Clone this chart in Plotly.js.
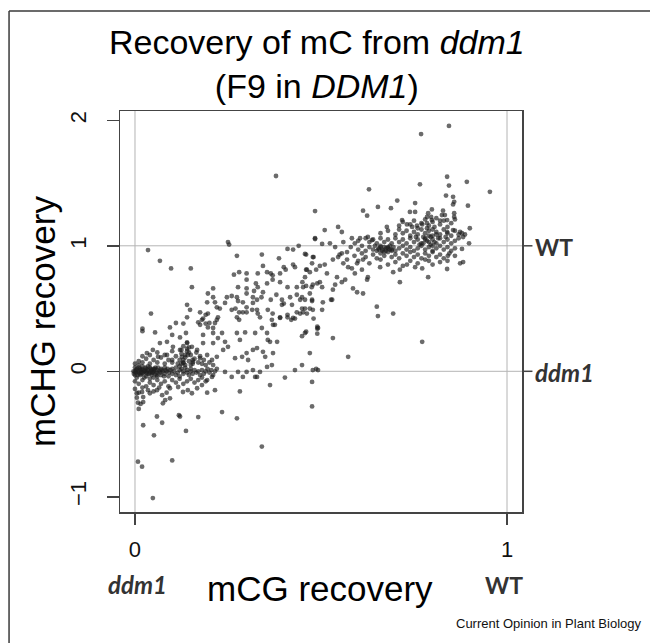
<!DOCTYPE html>
<html>
<head>
<meta charset="utf-8">
<script src="https://cdn.plot.ly/plotly-3.0.1.min.js"></script>
<style>html,body{margin:0;padding:0;background:#fff;}#chart{width:650px;height:643px;}</style>
</head>
<body>
<div id="chart"></div>
<script>
// ---- Data ----
// near-zero cluster (ddm1-like loci)
const lowX = [0.00,0.005,0.01,0.01,0.015,0.02,0.02,0.025,0.03,0.03,0.035,0.04,0.04,0.045,0.05,0.05,0.055,0.06,0.06,0.065,
0.00,0.005,0.01,0.015,0.02,0.025,0.03,0.035,0.04,0.045,0.05,0.055,0.06,0.07,0.07,0.075,0.08,0.08,0.085,0.09,
0.00,0.002,0.008,0.012,0.018,0.022,0.028,0.032,0.038,0.042,0.048,0.052,0.058,0.062,0.068,0.072,0.078,0.082,0.088,0.092,
0.095,0.10,0.10,0.105,0.11,0.11,0.115,0.12,0.12,0.125,0.13,0.13,0.135,0.14,0.14,0.145,0.15,0.15,0.155,0.16,
0.165,0.17,0.175,0.18,0.185,0.19,0.195,0.20,0.205,0.21,0.215,0.22,
0.00,0.01,0.02,0.03,0.04,0.05,0.06,0.07,0.08,0.09,0.10,0.11,0.12,0.13,0.14,0.15,0.16,0.17,0.18,0.19,0.00,0.01,0.02,0.035,0.05,0.065,0.085,
0.00,0.01,0.02,0.03,0.04,0.05,0.06,0.07,0.08,0.09,0.10,0.11,0.115,0.12,0.125,0.13,0.135,0.14,0.145,0.15,0.155,0.16,0.165,0.17,0.175,0.18,0.185,0.19,0.20,0.21,0.13,0.14,0.125,0.145,0.135,0.02,0.04,0.06,0.08,0.10,
0.12,0.125,0.13,0.135,0.14,0.145,0.15,0.155,
0.005,0.015,0.01,-0.004,-0.003,0.003,0.007,0.013,0.017,0.027,0.033,0.043,0.047,0.053,
0.242,0.26,0.277,0.29,0.323];
const lowY = [0.00,0.02,-0.01,0.03,-0.03,0.01,-0.02,0.00,0.02,-0.04,0.01,-0.01,0.03,-0.03,0.00,0.02,-0.02,0.01,-0.04,0.00,
-0.03,-0.05,0.05,0.01,0.04,-0.05,-0.01,0.04,-0.06,0.01,-0.05,0.03,-0.01,0.02,-0.03,0.00,-0.02,0.03,0.00,-0.04,
0.03,-0.01,0.00,-0.02,0.02,-0.01,0.03,0.00,-0.02,0.02,-0.01,0.01,-0.03,0.03,-0.01,0.01,-0.04,0.01,0.02,-0.01,
0.01,-0.02,0.02,0.00,-0.03,0.03,-0.01,0.01,-0.04,0.02,-0.02,0.00,0.03,-0.01,0.01,-0.03,0.00,0.02,-0.02,0.01,
-0.01,0.00,-0.03,0.01,-0.02,0.00,0.02,-0.01,0.01,-0.03,0.00,0.02,
-0.08,-0.10,-0.07,-0.12,-0.09,-0.11,-0.07,-0.10,-0.08,-0.12,-0.07,-0.09,-0.06,-0.10,-0.08,-0.06,-0.09,-0.07,-0.05,-0.08,-0.14,-0.17,-0.13,-0.15,-0.16,-0.13,-0.17,
0.06,0.08,0.07,0.10,0.06,0.09,0.07,0.11,0.06,0.09,0.07,0.12,0.06,0.09,0.14,0.07,0.11,0.18,0.08,0.13,0.06,0.10,0.15,0.07,0.12,0.06,0.09,0.05,0.07,0.05,0.20,0.23,0.17,0.15,0.05,0.12,0.13,0.15,0.13,0.16,
0.04,0.06,0.09,0.13,0.16,0.19,0.05,0.09,
-0.21,-0.26,-0.30,0.00,-0.02,0.01,-0.03,0.02,-0.01,0.01,-0.02,0.00,-0.01,0.02,
-0.005,-0.045,-0.005,-0.045,-0.045];

// rising band between the two states
const midX = [0.379,0.484,0.484,0.25,0.253,0.035,0.067,0.097,0.15,0.153,0.043,0.274,0.341,0.41,0.425,0.44,0.387,0.46,0.48,0.344,
0.40,0.405,0.425,0.43,0.46,0.47,0.266,0.28,0.30,0.33,0.355,0.365,0.37,0.39,0.30,0.325,0.355,0.37,0.39,0.41,
0.435,0.45,0.46,0.475,0.49,0.277,0.30,0.32,0.33,0.344,0.21,0.196,0.21,0.247,0.26,0.274,0.277,0.29,0.30,0.317,
0.328,0.34,0.365,0.38,0.395,0.40,0.417,0.435,0.444,0.457,0.476,0.215,0.22,0.14,0.148,0.175,0.19,0.196,0.27,0.28,
0.274,0.28,0.30,0.315,0.33,0.336,0.357,0.37,0.39,0.41,0.42,0.43,0.444,0.457,0.48,0.094,0.11,0.13,0.17,0.18,
0.19,0.20,0.22,0.21,0.368,0.376,0.02,
0.02,0.054,0.14,0.10,0.121,0.137,0.183,0.175,0.196,0.215,0.223,0.21,0.183,0.067,0.086,0.102,0.121,0.14,0.153,0.167,
0.183,0.032,0.048,0.062,0.086,0.10,0.126,0.142,0.13,0.156,0.175,0.194,0.207,0.22,0.21,0.223,0.234,0.242,0.25,0.237,
0.194,0.228,0.242,0.26,0.29,0.30,0.317,0.328,0.274,0.282,0.296,0.323,0.341,0.355,0.363,0.371,0.39,0.41,0.425,0.435,
0.449,0.462,0.478,0.492,0.457,0.395,0.422,0.357,0.269,0.288,0.30,0.304,0.317,0.328,0.344,0.35,0.371,0.382,0.355,0.368,
0.47,0.449,0.43,0.403,0.363,0.328,0.30,0.336,0.476,0.478,0.492,0.317,0.234,0.274,0.17,0.137,0.118,0.121,0.059,0.073,
0.022,0.051,0.341,0.476,0.10,0.008,0.019,0.048,0.282,0.215,0.194,0.005,0.019,0.022,0.008,0.022,0.04,0.059,0.073,0.081,
0.094,0.116,0.129,0.142,0.153,0.167,0.18,0.194,0.207,0.094,0.075,0.772,0.573,0.532,0.49,0.49,0.49,0.487,0.46,0.449,0.527,
0.457,0.478,0.476,0.497,0.51,0.487,0.516,0.462,0.457,0.532,0.546,0.556,0.56,0.57,0.573,0.583,0.597,0.591,0.61,0.613,
0.543,0.556,0.565,0.538,0.532,0.497,0.503,0.478,0.47,0.452,0.449,0.586,0.597,0.613,0.624,0.626,0.659,0.694,0.712,0.731,
0.753,0.772,0.79,0.476,0.505,0.53,0.503,0.47,0.452,0.65,0.653,0.694,0.788,0.712,0.839,0.874,0.882,0.841,0.879];
const midY = [1.556,1.277,1.054,1.03,1.01,0.966,0.88,0.82,0.82,0.67,0.46,0.92,0.93,0.975,0.97,1.00,0.90,0.93,0.91,0.84,
0.83,0.81,0.85,0.83,0.81,0.79,0.77,0.79,0.78,0.78,0.79,0.78,0.765,0.78,0.73,0.70,0.70,0.73,0.71,0.67,
0.67,0.71,0.68,0.67,0.70,0.67,0.66,0.64,0.67,0.63,0.66,0.62,0.59,0.59,0.60,0.59,0.56,0.55,0.62,0.59,
0.57,0.59,0.57,0.61,0.57,0.54,0.59,0.61,0.57,0.57,0.56,0.55,0.51,0.53,0.49,0.47,0.45,0.46,0.50,0.47,
0.43,0.41,0.47,0.49,0.46,0.43,0.49,0.46,0.43,0.43,0.41,0.42,0.46,0.50,0.42,0.35,0.385,0.38,0.39,0.41,
0.38,0.385,0.41,0.345,0.41,0.37,0.34,
0.32,0.31,0.43,0.29,0.27,0.305,0.42,0.37,0.35,0.385,0.43,0.305,0.29,0.225,0.235,0.195,0.17,0.225,0.195,0.17,
0.225,0.145,0.17,0.115,0.13,0.09,0.115,0.13,0.065,0.075,0.105,0.13,0.09,0.115,0.225,0.265,0.305,0.235,0.195,0.17,
0.55,0.50,0.545,0.49,0.47,0.51,0.545,0.49,0.305,0.25,0.31,0.305,0.345,0.305,0.235,0.37,0.425,0.45,0.425,0.47,
0.50,0.46,0.49,0.345,0.305,0.53,0.53,0.25,0.105,0.115,0.145,0.09,0.17,0.185,0.155,0.115,0.145,0.235,0.035,0.05,
0.145,0.05,0.01,-0.05,-0.11,-0.045,-0.005,-0.005,-0.085,0.01,0.01,0.01,-0.325,-0.375,-0.365,-0.475,-0.35,-0.36,-0.36,-0.41,
-0.43,-0.51,-0.60,-0.28,-0.71,-0.72,-0.76,-1.01,-0.16,-0.15,-0.17,-0.175,-0.165,-0.205,-0.25,-0.245,-0.175,-0.15,-0.19,-0.23,
-0.135,-0.125,-0.165,-0.15,-0.175,-0.135,-0.11,-0.07,-0.045,-0.215,-0.255,0.235,0.115,0.265,0.355,0.34,0.30,0.02,0.315,0.28,0.57,
0.935,0.91,0.86,0.84,0.85,0.81,0.78,0.81,0.75,0.89,0.91,0.94,0.86,0.89,0.83,0.82,0.86,0.78,0.81,0.89,
0.75,0.71,0.73,0.69,0.65,0.71,0.67,0.69,0.62,0.67,0.59,0.66,0.63,0.62,0.73,0.75,0.83,0.79,0.81,0.85,
0.83,0.82,0.88,0.57,0.55,0.57,0.49,0.50,0.47,0.515,0.44,0.46,0.75,0.71,0.815,0.86,0.87,0.92,0.975];

// upper cluster near WT level
const highX = [0.844,0.769,0.954,0.839,0.844,0.892,0.766,0.629,0.705,0.753,0.836,0.855,0.858,0.855,0.895,0.613,0.624,0.653,0.688,0.739,
0.753,0.798,0.788,0.785,0.796,0.828,0.825,0.833,0.839,0.858,0.858,0.546,0.556,0.51,0.677,0.718,0.71,0.731,0.745,0.758,
0.772,0.785,0.798,0.82,0.484,0.503,0.524,0.538,0.56,0.583,0.591,0.605,0.626,0.637,0.839,0.855,0.874,0.882,0.879,0.90,0.898,0.887,
0.72,0.74,0.75,0.77,0.78,0.79,0.80,0.81,0.82,0.83,0.84,0.85,0.76,0.80,0.86,
0.66,0.68,0.70,0.71,0.72,0.73,0.74,0.75,0.76,0.77,0.78,0.79,0.80,0.81,0.82,0.83,0.84,0.85,0.86,0.87,0.785,0.805,0.775,0.815,0.835,
0.60,0.62,0.63,0.64,0.65,0.66,0.67,0.68,0.69,0.70,0.71,0.72,0.73,0.74,0.75,0.76,0.77,0.78,0.79,0.80,0.81,0.82,0.83,0.84,0.85,0.86,0.87,0.755,0.795,0.765,
0.58,0.60,0.61,0.62,0.63,0.64,0.645,0.65,0.655,0.66,0.665,0.67,0.675,0.68,0.685,0.69,0.695,0.70,0.71,0.72,0.73,0.74,0.75,0.76,0.77,0.78,0.79,0.80,0.81,0.82,0.83,0.84,0.85,0.86,
0.55,0.57,0.59,0.61,0.62,0.64,0.65,0.66,0.67,0.68,0.69,0.70,0.71,0.72,0.73,0.74,0.75,0.76,0.77,0.78,0.79,0.80,0.81,0.82,0.83,0.845,0.86,
0.60,0.63,0.66,0.68,0.70,0.72,0.74,0.76,0.78,0.80,0.82,0.84,
0.655,0.665,0.675,0.685,0.67,0.68,0.66,0.69,0.775,0.785,0.795,0.805,0.79,0.80,0.78,0.81];
const highY = [1.955,1.89,1.43,1.55,1.48,1.51,1.49,1.45,1.36,1.34,1.40,1.39,1.35,1.33,1.32,1.28,1.24,1.31,1.30,1.27,
1.27,1.29,1.26,1.23,1.23,1.28,1.245,1.245,1.205,1.26,1.23,1.15,1.11,1.125,1.15,1.205,1.16,1.17,1.15,1.16,
1.17,1.18,1.205,1.20,1.06,1.015,1.02,0.99,1.03,1.06,1.02,1.06,1.07,1.045,1.11,1.125,1.11,1.07,1.10,1.14,1.02,1.09,
1.19,1.17,1.20,1.18,1.21,1.16,1.19,1.22,1.17,1.20,1.15,1.18,1.14,1.13,1.21,
1.10,1.12,1.09,1.13,1.10,1.12,1.08,1.11,1.09,1.13,1.10,1.12,1.08,1.11,1.09,1.13,1.10,1.08,1.12,1.09,1.14,1.15,1.07,1.06,1.07,
1.04,1.06,1.03,1.05,1.02,1.06,1.03,1.05,1.02,1.06,1.03,1.05,1.02,1.06,1.03,1.05,1.02,1.06,1.03,1.05,1.02,1.06,1.03,1.05,1.02,1.04,1.06,1.07,1.07,1.01,
0.99,0.97,1.00,0.96,0.99,0.97,1.00,0.96,0.98,1.00,0.97,0.99,0.96,0.98,1.00,0.97,0.99,0.96,0.98,1.00,0.97,0.99,0.96,0.98,1.00,0.97,0.99,0.96,0.98,1.00,0.97,0.99,0.96,0.98,
0.93,0.95,0.92,0.94,0.91,0.93,0.90,0.94,0.92,0.95,0.91,0.93,0.90,0.94,0.92,0.95,0.91,0.93,0.90,0.94,0.92,0.95,0.91,0.93,0.90,0.94,0.92,
0.88,0.86,0.89,0.85,0.87,0.84,0.88,0.86,0.89,0.85,0.87,0.88,
0.97,0.96,0.98,0.97,0.95,0.99,0.99,0.96,1.02,1.04,1.01,1.03,1.08,1.00,1.05,1.09];

const xTickVals = [0, 1];
const xTickText = ['0', '1'];
const yTickVals = [-1, 0, 1, 2];
const yTickText = ['\u22121', '0', '1', '2'];
const stateVals = [0, 1];
const stateText = ['<b><i>ddm1</i></b>', '<b>WT</b>'];

const allX = lowX.concat(midX, highX);
const allY = lowY.concat(midY, highY);

const SANS = 'Liberation Sans, Arial, Helvetica, sans-serif';
const BOLD = 'Lato, Open Sans, sans-serif';

const traces = [{
  type: 'scatter', mode: 'markers', x: allX, y: allY,
  marker: {size: 4.8, color: 'rgba(30,30,30,0.66)', line: {width: 0}},
  hoverinfo: 'skip', showlegend: false, cliponaxis: true
}];

const refLine = {color: '#b4b4b4', width: 1};
const frame = {color: '#3a3a3a', width: 1.5};
const tickLine = {color: '#444', width: 1.5};

const shapes = [
  {type: 'line', xref: 'x', yref: 'paper', x0: 0, x1: 0, y0: 0, y1: 1, line: refLine, layer: 'below'},
  {type: 'line', xref: 'x', yref: 'paper', x0: 1, x1: 1, y0: 0, y1: 1, line: refLine, layer: 'below'},
  {type: 'line', xref: 'paper', yref: 'y', x0: 0, x1: 1, y0: 0, y1: 0, line: refLine, layer: 'below'},
  {type: 'line', xref: 'paper', yref: 'y', x0: 0, x1: 1, y0: 1, y1: 1, line: refLine, layer: 'below'},
  {type: 'line', xref: 'paper', yref: 'paper', x0: -0.276, x1: -0.276, y0: -0.36, y1: 1.2494, line: frame},
  {type: 'line', xref: 'paper', yref: 'paper', x0: -0.276, x1: 1.36, y0: 1.2494, y1: 1.2494, line: frame}
];
const annotations = [
  {xref: 'paper', yref: 'paper', x: 0.491, y: 1.118, xanchor: 'center', yanchor: 'middle',
   text: 'Recovery of mC from <i>ddm1</i><br>(F9 in <i>DDM1</i>)', showarrow: false,
   font: {family: SANS, size: 34, color: '#000'}},
  {xref: 'paper', yref: 'paper', x: 0.498, y: -0.19, xanchor: 'center', yanchor: 'middle',
   text: 'mCG recovery', showarrow: false, font: {family: SANS, size: 35, color: '#000'}},
  {xref: 'paper', yref: 'paper', x: -0.1915, y: 0.474, xanchor: 'center', yanchor: 'middle', textangle: -90,
   text: 'mCHG recovery', showarrow: false, font: {family: SANS, size: 35, color: '#000'}},
  {xref: 'x', yref: 'paper', x: 0, y: -0.182, xanchor: 'center', yanchor: 'middle', xshift: 3,
   text: stateText[0], showarrow: false, font: {family: BOLD, size: 24, color: '#333'}},
  {xref: 'x', yref: 'paper', x: 1, y: -0.182, xanchor: 'center', yanchor: 'middle', xshift: -3,
   text: stateText[1], showarrow: false, font: {family: BOLD, size: 23, color: '#333'}},
  {xref: 'paper', yref: 'paper', x: 1.3, y: -0.278, xanchor: 'right', yanchor: 'middle',
   text: 'Current Opinion in Plant Biology', showarrow: false, font: {family: SANS, size: 13, color: '#111'}}
];
// right-hand state axis: ticks + labels at the ddm1 (0) and WT (1) levels
stateVals.forEach((v, i) => {
  shapes.push({type: 'line', xref: 'paper', yref: 'y', x0: 1, x1: 1.026, y0: v, y1: v, line: tickLine});
  annotations.push({xref: 'paper', yref: 'y', x: 1.027, y: v, xanchor: 'left', yanchor: 'middle', yshift: -1,
    text: stateText[i], showarrow: false, font: {family: BOLD, size: i === 0 ? 24 : 23, color: '#333'}});
});

const layout = {
  width: 650, height: 643,
  margin: {l: 120, r: 128, t: 111, b: 131, pad: 0},
  paper_bgcolor: '#fff', plot_bgcolor: '#fff',
  showlegend: false,
  xaxis: {
    range: [-0.0403, 1.0403], tickvals: xTickVals, ticktext: xTickText,
    ticks: 'outside', ticklen: 11, tickwidth: 1.5, tickcolor: '#444',
    showline: true, mirror: true, linecolor: '#444', linewidth: 1.5,
    showgrid: false, zeroline: false, ticklabelstandoff: 6,
    tickfont: {family: SANS, size: 22, color: '#111'}
  },
  yaxis: {
    range: [-1.121, 2.074], tickvals: yTickVals, ticktext: yTickText, tickangle: -90,
    ticks: 'outside', ticklen: 12, tickwidth: 1.5, tickcolor: '#444',
    showline: true, mirror: true, linecolor: '#444', linewidth: 1.5,
    showgrid: false, zeroline: false, ticklabelstandoff: 12,
    tickfont: {family: SANS, size: 22, color: '#111'}
  },
  shapes: shapes,
  annotations: annotations
};

Plotly.newPlot('chart', traces, layout, {displayModeBar: false, staticPlot: true});
</script>
</body>
</html>
